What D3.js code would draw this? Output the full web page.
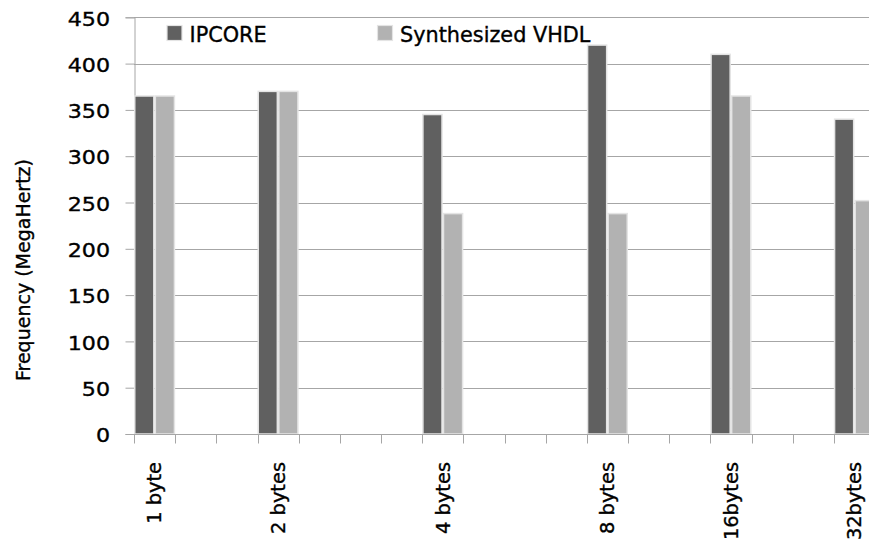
<!DOCTYPE html>
<html>
<head>
<meta charset="utf-8">
<script src="https://cdn.jsdelivr.net/npm/d3@7"></script>
<style>
  html, body { margin: 0; padding: 0; background: #fff; overflow: hidden; }
  text { font-family: "DejaVu Sans", sans-serif; fill: #000; stroke: #000; stroke-width: 0.35px; }
</style>
</head>
<body>
<svg id="chart" width="869" height="546"></svg>
<script>
// Category slots: blank entries keep the spacing between message sizes
const categories = ["1 byte", "", "", "2 bytes", "", "", "", "4 bytes", "", "", "",
                    "8 bytes", "", "", "16bytes", "", "", "32bytes"];
// Frequencies (MHz), one entry per slot; null where a slot is empty
const ipcore      = [365, null, null, 370, null, null, null, 345, null, null, null,
                     420, null, null, 410, null, null, 340];
const synthesized = [365, null, null, 370, null, null, null, 238, null, null, null,
                     238, null, null, 365, null, null, 252];
const seriesNames = ["IPCORE", "Synthesized VHDL"];
const seriesColors = ["#606060", "#b2b2b2"];
const yTicks = [0, 50, 100, 150, 200, 250, 300, 350, 400, 450];
const yTitle = "Frequency (MegaHertz)";

const svg = d3.select("#chart");
const plot = { left: 134, right: 875, top: 17.3, bottom: 434 };

const x = d3.scaleBand()
  .domain(d3.range(categories.length))
  .range([plot.left, plot.right])
  .paddingInner(0).paddingOuter(0);

const y = d3.scaleLinear().domain([0, 450]).range([plot.bottom, plot.top]);

const sub = d3.scaleBand().domain([0, 1]).range([0, x.bandwidth()]).padding(0);

// Horizontal gridlines
svg.append("g")
  .selectAll("line")
  .data(yTicks.filter(d => d > 0))
  .join("line")
  .attr("x1", plot.left).attr("x2", plot.right)
  .attr("y1", d => Math.round(y(d)) + 0.5).attr("y2", d => Math.round(y(d)) + 0.5)
  .attr("stroke", "#a6a6a6").attr("stroke-width", 1);

// Y axis
const yAxis = svg.append("g")
  .attr("transform", `translate(${plot.left + 0.5},0)`)
  .call(d3.axisLeft(y).tickValues(yTicks).tickSize(9).tickPadding(0).tickFormat(d3.format("d")));
yAxis.select(".domain").attr("stroke", "#a6a6a6");
yAxis.selectAll(".tick line").attr("stroke", "#a6a6a6");
yAxis.selectAll(".tick text")
  .attr("x", 0).attr("dy", "0.4em")
  .style("font-size", "19.3px")
  .style("font-family", "DejaVu Sans, sans-serif")
  .attr("fill", "#000")
  .attr("text-anchor", "end")
  .attr("transform", "translate(-24.5,0) scale(1.15,1)");

// Bars
const series = [ipcore, synthesized];
series.forEach((vals, si) => {
  svg.append("g")
    .selectAll("rect")
    .data(vals.map((v, i) => ({ i, v })).filter(d => d.v !== null))
    .join("rect")
    .attr("x", d => x(d.i) + sub(si) + 0.75)
    .attr("width", sub.bandwidth() - 1.5)
    .attr("y", d => y(d.v))
    .attr("height", d => y(0) - y(d.v))
    .attr("fill", seriesColors[si])
    .attr("stroke", "#e4e4e4")
    .attr("stroke-width", 1.5);
});

// X axis (category axis with a tick at every slot boundary)
const xb = svg.append("g").attr("transform", `translate(0,${plot.bottom + 0.5})`);
xb.append("line")
  .attr("x1", plot.left).attr("x2", plot.right)
  .attr("stroke", "#a6a6a6");
xb.selectAll("line.tick")
  .data(d3.range(categories.length + 1))
  .join("line")
  .attr("class", "tick")
  .attr("x1", i => Math.round(plot.left + i * x.step()) + 0.5)
  .attr("x2", i => Math.round(plot.left + i * x.step()) + 0.5)
  .attr("y1", 0).attr("y2", 9)
  .attr("stroke", "#a6a6a6");
xb.selectAll("text")
  .data(categories.map((c, i) => ({ c, i })).filter(d => d.c))
  .join("text")
  .attr("transform", d => `translate(${x(d.i) + x.bandwidth() / 2},${461.5 - plot.bottom}) rotate(-90)`)
  .attr("text-anchor", "end")
  .attr("dy", "0.35em")
  .style("font-size", "19.4px")
  .text(d => d.c);

// Y axis title
svg.append("text")
  .attr("transform", "translate(30,270) rotate(-90)")
  .attr("text-anchor", "middle")
  .style("font-size", "19px")
  .text(yTitle);

// Legend
const legendX = [167, 377.5];
const legend = svg.append("g");
seriesNames.forEach((name, i) => {
  legend.append("rect")
    .attr("x", legendX[i]).attr("y", 25.5)
    .attr("width", 15).attr("height", 15)
    .attr("fill", seriesColors[i])
    .attr("stroke", "#e4e4e4").attr("stroke-width", 1.2);
  legend.append("text")
    .attr("x", legendX[i] + 22.5).attr("y", 41.5)
    .style("font-size", "20.8px")
    .text(name);
});
</script>
</body>
</html>
